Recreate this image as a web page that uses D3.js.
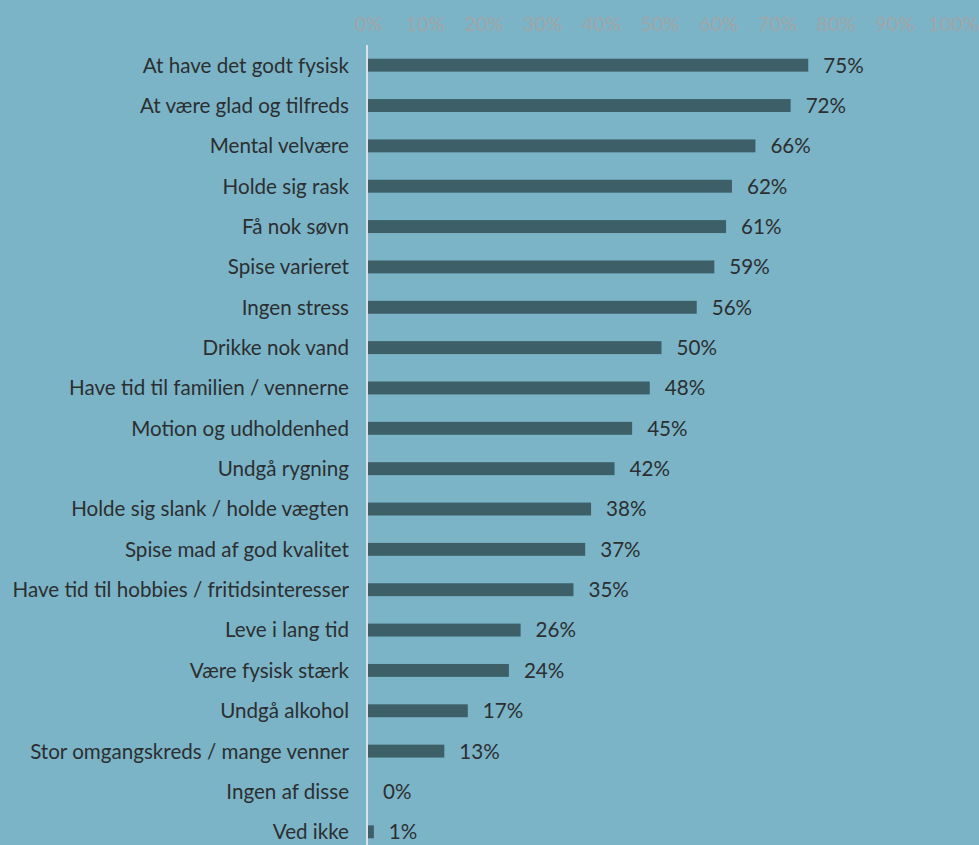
<!DOCTYPE html>
<html>
<head>
<meta charset="utf-8">
<script src="https://cdn.jsdelivr.net/npm/d3@7"></script>
<style>
  body { margin: 0; background: #7bb4c6; }
  svg { display: block; }
  text { font-family: Lato, "Open Sans", sans-serif; }
</style>
</head>
<body>
<script>
// data
var categories = [
  "At have det godt fysisk",
  "At være glad og tilfreds",
  "Mental velvære",
  "Holde sig rask",
  "Få nok søvn",
  "Spise varieret",
  "Ingen stress",
  "Drikke nok vand",
  "Have tid til familien / vennerne",
  "Motion og udholdenhed",
  "Undgå rygning",
  "Holde sig slank / holde vægten",
  "Spise mad af god kvalitet",
  "Have tid til hobbies / fritidsinteresser",
  "Leve i lang tid",
  "Være fysisk stærk",
  "Undgå alkohol",
  "Stor omgangskreds / mange venner",
  "Ingen af disse",
  "Ved ikke"
];
var values = [75, 72, 66, 62, 61, 59, 56, 50, 48, 45, 42, 38, 37, 35, 26, 24, 17, 13, 0, 1];
var tickValues = [0, 10, 20, 30, 40, 50, 60, 70, 80, 90, 100];

var width = 979, height = 845;

var svg = d3.select("body").append("svg")
    .attr("width", width)
    .attr("height", height);

svg.append("rect")
    .attr("width", width).attr("height", height)
    .attr("fill", "#7bb4c6");

var x = d3.scaleLinear().domain([0, 100]).range([368, 955]);
var y = d3.scaleBand().domain(categories).range([45, 852]).paddingInner(0.68).paddingOuter(0.34);

// top axis labels (the last one runs into the edge, as in the original)
svg.append("g")
    .attr("transform", "translate(0,31)")
    .call(d3.axisTop(x).tickValues(tickValues).tickFormat(function(d) { return d + "%"; }).tickSize(0).tickPadding(0))
    .call(function(g) {
      g.select(".domain").remove();
      g.selectAll("text")
        .attr("dx", function(d) { return d === 0 ? 0 : -2; })
        .attr("fill", "#a0a5a8")
        .attr("font-size", "20px")
        .attr("font-family", "Lato, sans-serif");
    });

// bars
svg.append("g").selectAll("rect")
    .data(values)
    .enter().append("rect")
    .attr("x", x(0))
    .attr("y", function(d, i) { return y(categories[i]); })
    .attr("width", function(d) { return x(d) - x(0); })
    .attr("height", y.bandwidth())
    .attr("fill", "#3c5f68");

// vertical axis line
svg.append("line")
    .attr("x1", 367).attr("x2", 367)
    .attr("y1", 45).attr("y2", height)
    .attr("stroke", "#dde3e4")
    .attr("stroke-width", 2);

// category labels
svg.append("g").selectAll("text")
    .data(categories)
    .enter().append("text")
    .attr("x", 349)
    .attr("y", function(d) { return y(d) + y.bandwidth() / 2; })
    .attr("dy", "0.36em")
    .attr("text-anchor", "end")
    .attr("font-size", "20.6px")
    .attr("fill", "#2b2f31")
    .text(function(d) { return d; });

// value labels
svg.append("g").selectAll("text")
    .data(values)
    .enter().append("text")
    .attr("x", function(d) { return x(d) + 15; })
    .attr("y", function(d, i) { return y(categories[i]) + y.bandwidth() / 2; })
    .attr("dy", "0.36em")
    .attr("font-size", "20.6px")
    .attr("fill", "#2b2f31")
    .text(function(d) { return d + "%"; });
</script>
</body>
</html>
